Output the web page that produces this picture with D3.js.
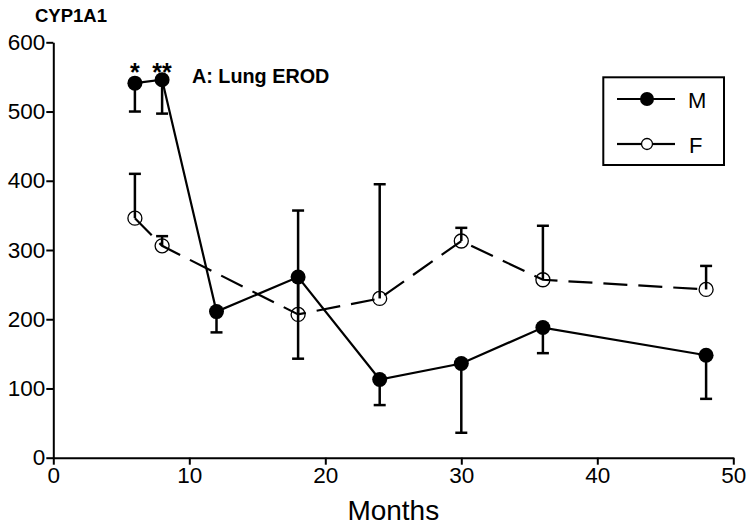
<!DOCTYPE html>
<html><head><meta charset="utf-8">
<script src="https://cdn.jsdelivr.net/npm/d3@7"></script>
<style>body{margin:0;background:#fff}svg{display:block}text{font-family:"Liberation Sans",Arial,sans-serif;fill:#000}</style>
</head><body><svg id="c" width="750" height="528"></svg>
<script>
const monthsM = [6, 8, 12, 18, 24, 30, 36, 48];
const valuesM = [541, 546, 211, 261, 113, 136, 188, 148];
const errLowM = [500, 497, 181, 143, 76, 36, 151, 85];
const monthsF = [6, 8, 18, 24, 30, 36, 48];
const valuesF = [346, 306, 207, 230, 313, 257, 243];
const errHighF = [410, 320, 357, 395, 332, 335, 277];
const xTicks = [0, 10, 20, 30, 40, 50];
const yTicks = [0, 100, 200, 300, 400, 500, 600];
const seriesNames = ["M", "F"];

const svg = d3.select("#c");
const x = d3.scaleLinear().domain([0, 50]).range([53.3, 733.3]);
const y = d3.scaleLinear().domain([0, 600]).range([457.7, 42.3]);

// axes
const xMinor = d3.range(0, 51, 2).filter(v => v % 10 !== 0);
const yMinor = d3.range(0, 601, 20).filter(v => v % 100 !== 0);
const gx = svg.append("g").attr("transform", `translate(0,${y(0)})`);
gx.call(d3.axisBottom(x).tickValues(xMinor).tickSize(4).tickFormat("").tickSizeOuter(0));
gx.call(d3.axisBottom(x).tickValues(xTicks).tickSize(7).tickSizeOuter(0).tickPadding(2));
const gy = svg.append("g").attr("transform", `translate(${x(0)},0)`);
gy.call(d3.axisLeft(y).tickValues(yMinor).tickSize(4).tickFormat("").tickSizeOuter(0));
gy.call(d3.axisLeft(y).tickValues(yTicks).tickSize(7).tickSizeOuter(0).tickPadding(1));
svg.selectAll(".domain").attr("stroke", "#000").attr("stroke-width", 2);
svg.selectAll(".tick line").attr("stroke", "#000").attr("stroke-width", 2);
svg.selectAll(".tick text").attr("font-size", 22.5).attr("font-family", "Liberation Sans, Arial, sans-serif").attr("fill", "#000");
gx.selectAll(".tick text").attr("dy", "0.71em");

// lines
const dM = monthsM.map((m, i) => ({x: m, y: valuesM[i], e: errLowM[i]}));
const dF = monthsF.map((m, i) => ({x: m, y: valuesF[i], e: errHighF[i]}));
const line = d3.line().x(d => x(d.x)).y(d => y(d.y));
svg.append("path").attr("d", line(dF)).attr("fill", "none").attr("stroke", "#000")
  .attr("stroke-width", 2.2).attr("stroke-dasharray", "24,11");
svg.append("path").attr("d", line(dM)).attr("fill", "none").attr("stroke", "#000").attr("stroke-width", 2.2);

// error bars
function errBars(data) {
  const g = svg.append("g").attr("stroke", "#000").attr("stroke-width", 2.5);
  data.forEach(d => {
    g.append("line").attr("x1", x(d.x)).attr("x2", x(d.x)).attr("y1", y(d.y)).attr("y2", y(d.e));
    g.append("line").attr("x1", x(d.x) - 6).attr("x2", x(d.x) + 6).attr("y1", y(d.e)).attr("y2", y(d.e));
  });
}
errBars(dM);
errBars(dF);

// markers
svg.append("g").selectAll("circle").data(dF).join("circle")
  .attr("cx", d => x(d.x)).attr("cy", d => y(d.y)).attr("r", 7)
  .attr("fill", "none").attr("stroke", "#000").attr("stroke-width", 1.3);
svg.append("g").selectAll("circle").data(dM).join("circle")
  .attr("cx", d => x(d.x)).attr("cy", d => y(d.y)).attr("r", 7.5).attr("fill", "#000");

// x label
svg.append("text").attr("x", (x(0) + x(50)) / 2).attr("y", 520).attr("text-anchor", "middle")
  .attr("font-size", 28).text("Months");

// titles
svg.append("text").attr("x", 35).attr("y", 21.7).attr("font-size", 18.5).attr("font-weight", "bold").text("CYP1A1");
svg.append("text").attr("x", 192).attr("y", 83).attr("font-size", 19.8).attr("font-weight", "bold").text("A: Lung EROD");
svg.append("text").attr("x", x(6)).attr("y", 81).attr("text-anchor", "middle").attr("font-size", 25).attr("font-weight", "bold").text("*");
svg.append("text").attr("x", x(8)).attr("y", 81).attr("text-anchor", "middle").attr("font-size", 25).attr("font-weight", "bold").text("**");

// legend
const lg = svg.append("g");
lg.append("rect").attr("x", 603.3).attr("y", 77.3).attr("width", 120.7).attr("height", 87.7)
  .attr("fill", "none").attr("stroke", "#000").attr("stroke-width", 2);
lg.append("line").attr("x1", 617).attr("x2", 675).attr("y1", 99).attr("y2", 99).attr("stroke", "#000").attr("stroke-width", 2.2);
lg.append("circle").attr("cx", 647).attr("cy", 99).attr("r", 7).attr("fill", "#000");
lg.append("line").attr("x1", 617).attr("x2", 641).attr("y1", 144).attr("y2", 144).attr("stroke", "#000").attr("stroke-width", 2.2);
lg.append("line").attr("x1", 653).attr("x2", 675).attr("y1", 144).attr("y2", 144).attr("stroke", "#000").attr("stroke-width", 2.2);
lg.append("circle").attr("cx", 647).attr("cy", 144).attr("r", 5.5).attr("fill", "none").attr("stroke", "#000").attr("stroke-width", 1.3);
lg.append("text").attr("x", 688).attr("y", 108).attr("font-size", 22).text(seriesNames[0]);
lg.append("text").attr("x", 689).attr("y", 153).attr("font-size", 22).text(seriesNames[1]);
</script></body></html>
